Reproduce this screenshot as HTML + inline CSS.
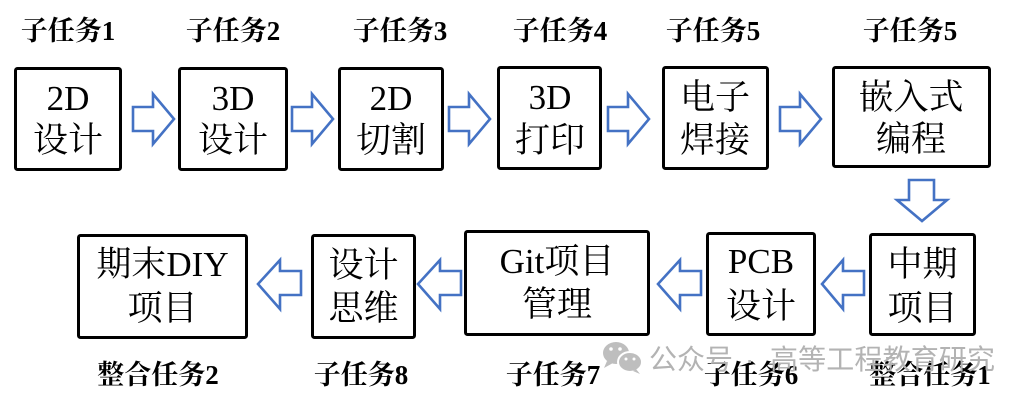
<!DOCTYPE html>
<html>
<head>
<meta charset="utf-8">
<style>
html,body{margin:0;padding:0;background:#fff;}
body{width:1030px;height:402px;overflow:hidden;}
svg{display:block;}
.box{fill:#fff;stroke:#000;stroke-width:3;}
.arr{fill:#fff;stroke:#4472C4;stroke-width:2.6;stroke-linejoin:miter;}
.t{font-family:"Liberation Serif","Noto Serif CJK SC",serif;font-size:35px;fill:#000;text-anchor:middle;}
.l{font-family:"Liberation Serif","Noto Serif CJK SC",serif;font-size:27px;font-weight:bold;fill:#000;text-anchor:middle;}
.w{font-family:"Liberation Sans","Noto Sans CJK SC",sans-serif;font-size:28px;fill:#b3b3b3;}
</style>
</head>
<body>
<svg width="1030" height="402" viewBox="0 0 1030 402" xmlns="http://www.w3.org/2000/svg">
  <!-- top labels -->
  <text class="l" x="68" y="40">子任务1</text>
  <text class="l" x="233" y="40">子任务2</text>
  <text class="l" x="400" y="40">子任务3</text>
  <text class="l" x="560" y="40">子任务4</text>
  <text class="l" x="713" y="40">子任务5</text>
  <text class="l" x="910" y="40">子任务5</text>

  <!-- top boxes -->
  <rect class="box" x="15.5" y="68.5" width="105" height="101" rx="2"/>
  <rect class="box" x="179.5" y="68.5" width="107" height="101" rx="2"/>
  <rect class="box" x="339.5" y="68.5" width="103" height="101" rx="2"/>
  <rect class="box" x="498.5" y="67.5" width="102" height="101" rx="2"/>
  <rect class="box" x="663.5" y="67.5" width="104" height="101" rx="2"/>
  <rect class="box" x="833.5" y="67.5" width="156" height="99" rx="2"/>

  <text class="t" x="68" y="110">2D</text><text class="t" x="68" y="152">设计</text>
  <text class="t" x="233" y="110">3D</text><text class="t" x="233" y="152">设计</text>
  <text class="t" x="391" y="110">2D</text><text class="t" x="391" y="152">切割</text>
  <text class="t" x="550" y="109">3D</text><text class="t" x="550" y="152">打印</text>
  <text class="t" x="715" y="109">电子</text><text class="t" x="715" y="152">焊接</text>
  <text class="t" x="911" y="109">嵌入式</text><text class="t" x="911" y="151">编程</text>

  <!-- top right arrows -->
  <polygon class="arr" points="133,107 153,107 153,94 174,119 153,144 153,131 133,131"/>
  <polygon class="arr" points="292,107 312,107 312,94 333,119 312,144 312,131 292,131"/>
  <polygon class="arr" points="449,107 469,107 469,94 490,119 469,144 469,131 449,131"/>
  <polygon class="arr" points="608,107 628,107 628,94 649,119 628,144 628,131 608,131"/>
  <polygon class="arr" points="780,107 800,107 800,94 821,119 800,144 800,131 780,131"/>

  <!-- down arrow -->
  <polygon class="arr" points="909,180 934,180 934,200 947,200 922,221 897,200 909,200"/>

  <!-- bottom boxes -->
  <rect class="box" x="78.5" y="235.5" width="168" height="102" rx="2"/>
  <rect class="box" x="312.5" y="235.5" width="102" height="102" rx="2"/>
  <rect class="box" x="465.5" y="231.5" width="183" height="103" rx="2"/>
  <rect class="box" x="707.5" y="233.5" width="107" height="101" rx="2"/>
  <rect class="box" x="870.5" y="234.5" width="104" height="100" rx="2"/>

  <text class="t" x="162.5" y="276">期末DIY</text><text class="t" x="162.5" y="320">项目</text>
  <text class="t" x="363.5" y="277">设计</text><text class="t" x="363.5" y="320">思维</text>
  <text class="t" x="557" y="273">Git项目</text><text class="t" x="557" y="316">管理</text>
  <text class="t" x="761" y="273">PCB</text><text class="t" x="761" y="318">设计</text>
  <text class="t" x="922.5" y="276">中期</text><text class="t" x="922.5" y="320">项目</text>

  <!-- bottom left arrows -->
  <polygon class="arr" points="301,271 280,271 280,260 258,284 280,309 280,295 301,295"/>
  <polygon class="arr" points="461,271 440,271 440,260 418,284 440,309 440,295 461,295"/>
  <polygon class="arr" points="701,271 680,271 680,260 658,284 680,309 680,295 701,295"/>
  <polygon class="arr" points="864,271 843,271 843,260 822,284 843,309 843,295 864,295"/>

  <!-- bottom labels -->
  <text class="l" x="158" y="384">整合任务2</text>
  <text class="l" x="361" y="384">子任务8</text>
  <text class="l" x="553" y="384">子任务7</text>
  <text class="l" x="751" y="384">子任务6</text>
  <text class="l" x="930" y="384">整合任务1</text>

  <!-- watermark -->
  <g fill="#b8b8b8" opacity="0.9">
    <ellipse cx="616" cy="353" rx="13" ry="11"/>
    <polygon points="607,361 604,368 613,363"/>
    <ellipse cx="630" cy="362" rx="12" ry="10" stroke="#fff" stroke-width="2"/>
    <polygon points="636,369 640,374 633,371"/>
  </g>
  <g fill="#fff">
    <circle cx="611" cy="349" r="1.8"/><circle cx="620" cy="349" r="1.8"/>
    <circle cx="626" cy="359" r="1.5"/><circle cx="634" cy="359" r="1.5"/>
  </g>
  <text class="w" x="649" y="369">公众号</text>
  <text class="w" x="745" y="369">·</text>
  <text class="w" x="770" y="369" textLength="225">高等工程教育研究</text>
</svg>
</body>
</html>
